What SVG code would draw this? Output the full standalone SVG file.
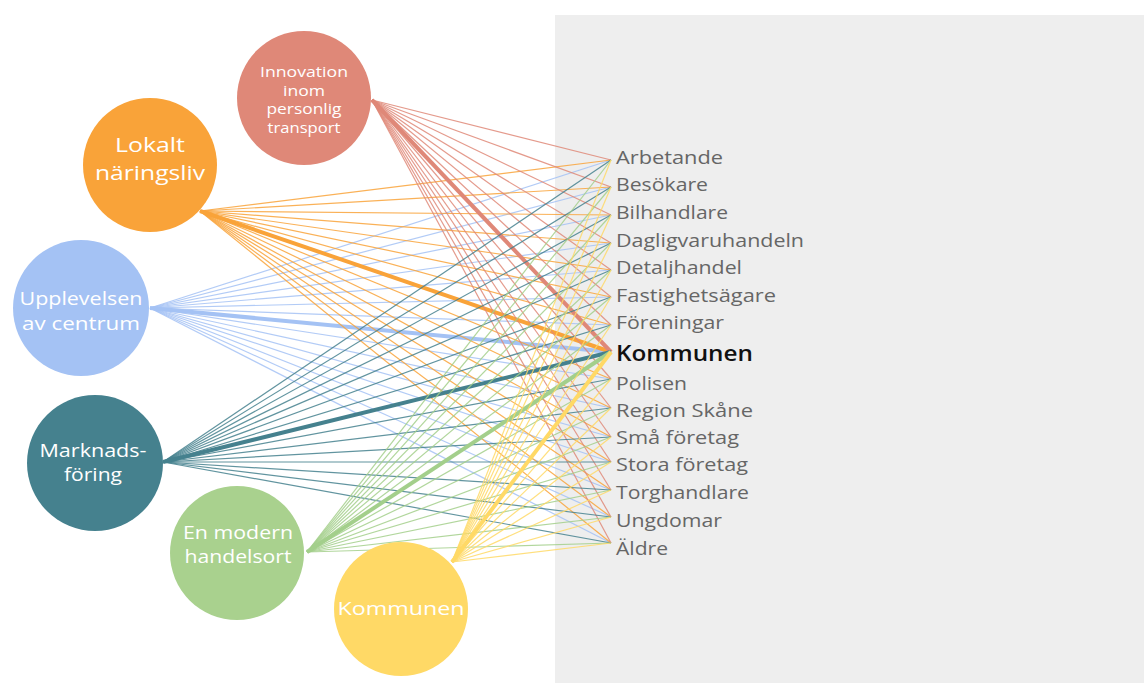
<svg xmlns="http://www.w3.org/2000/svg" width="1144" height="683" viewBox="0 0 1144 683">
<style>
.lbl{font-family:"Open Sans","Liberation Sans",sans-serif;font-size:19px;fill:#666666}
.lblb{font-family:"Open Sans","Liberation Sans",sans-serif;font-size:22px;font-weight:600;fill:#111111}
.ct{font-family:"Open Sans","Liberation Sans",sans-serif;fill:#ffffff;text-anchor:middle}
.t{stroke-width:1.2;opacity:0.85;fill:none}
.k{stroke-width:4;fill:none}
.inn line{stroke:#df8878}
.lok line{stroke:#f9a339}
.upp line{stroke:#a4c2f4}
.mar line{stroke:#45818e}
.han line{stroke:#a3cf8b}
.kom line{stroke:#ffd966}
</style>
<rect x="555" y="15" width="589" height="668" fill="#eeeeee"/>
<g id="connectors">
<g class="upp">
<line class="t" x1="150" y1="308" x2="611" y2="160"/><line class="t" x1="150" y1="308" x2="611" y2="187"/><line class="t" x1="150" y1="308" x2="611" y2="215"/><line class="t" x1="150" y1="308" x2="611" y2="243"/><line class="t" x1="150" y1="308" x2="611" y2="270"/><line class="t" x1="150" y1="308" x2="611" y2="297"/><line class="t" x1="150" y1="308" x2="611" y2="325"/><line class="t" x1="150" y1="308" x2="611" y2="379"/><line class="t" x1="150" y1="308" x2="611" y2="408"/><line class="t" x1="150" y1="308" x2="611" y2="437"/><line class="t" x1="150" y1="308" x2="611" y2="462"/><line class="t" x1="150" y1="308" x2="611" y2="490"/><line class="t" x1="150" y1="308" x2="611" y2="517"/><line class="t" x1="150" y1="308" x2="611" y2="543"/><line class="k" x1="150" y1="308" x2="611" y2="352"/>
</g>
<g class="lok">
<line class="t" x1="200" y1="211" x2="611" y2="160"/><line class="t" x1="200" y1="211" x2="611" y2="187"/><line class="t" x1="200" y1="211" x2="611" y2="215"/><line class="t" x1="200" y1="211" x2="611" y2="243"/><line class="t" x1="200" y1="211" x2="611" y2="270"/><line class="t" x1="200" y1="211" x2="611" y2="297"/><line class="t" x1="200" y1="211" x2="611" y2="325"/><line class="t" x1="200" y1="211" x2="611" y2="379"/><line class="t" x1="200" y1="211" x2="611" y2="408"/><line class="t" x1="200" y1="211" x2="611" y2="437"/><line class="t" x1="200" y1="211" x2="611" y2="462"/><line class="t" x1="200" y1="211" x2="611" y2="490"/><line class="t" x1="200" y1="211" x2="611" y2="517"/><line class="t" x1="200" y1="211" x2="611" y2="543"/><line class="k" x1="200" y1="211" x2="611" y2="352"/>
</g>
<g class="inn">
<line class="t" x1="372" y1="100" x2="611" y2="160"/><line class="t" x1="372" y1="100" x2="611" y2="187"/><line class="t" x1="372" y1="100" x2="611" y2="215"/><line class="t" x1="372" y1="100" x2="611" y2="243"/><line class="t" x1="372" y1="100" x2="611" y2="270"/><line class="t" x1="372" y1="100" x2="611" y2="297"/><line class="t" x1="372" y1="100" x2="611" y2="325"/><line class="t" x1="372" y1="100" x2="611" y2="379"/><line class="t" x1="372" y1="100" x2="611" y2="408"/><line class="t" x1="372" y1="100" x2="611" y2="437"/><line class="t" x1="372" y1="100" x2="611" y2="462"/><line class="t" x1="372" y1="100" x2="611" y2="490"/><line class="t" x1="372" y1="100" x2="611" y2="517"/><line class="t" x1="372" y1="100" x2="611" y2="543"/><line class="k" x1="372" y1="100" x2="611" y2="352"/>
</g>
<g class="mar">
<line class="t" x1="163" y1="462" x2="611" y2="160"/><line class="t" x1="163" y1="462" x2="611" y2="187"/><line class="t" x1="163" y1="462" x2="611" y2="215"/><line class="t" x1="163" y1="462" x2="611" y2="243"/><line class="t" x1="163" y1="462" x2="611" y2="270"/><line class="t" x1="163" y1="462" x2="611" y2="297"/><line class="t" x1="163" y1="462" x2="611" y2="325"/><line class="t" x1="163" y1="462" x2="611" y2="379"/><line class="t" x1="163" y1="462" x2="611" y2="408"/><line class="t" x1="163" y1="462" x2="611" y2="437"/><line class="t" x1="163" y1="462" x2="611" y2="462"/><line class="t" x1="163" y1="462" x2="611" y2="490"/><line class="t" x1="163" y1="462" x2="611" y2="517"/><line class="t" x1="163" y1="462" x2="611" y2="543"/><line class="k" x1="163" y1="462" x2="611" y2="352"/>
</g>
<g class="han">
<line class="t" x1="307" y1="552" x2="611" y2="160"/><line class="t" x1="307" y1="552" x2="611" y2="187"/><line class="t" x1="307" y1="552" x2="611" y2="215"/><line class="t" x1="307" y1="552" x2="611" y2="243"/><line class="t" x1="307" y1="552" x2="611" y2="270"/><line class="t" x1="307" y1="552" x2="611" y2="297"/><line class="t" x1="307" y1="552" x2="611" y2="325"/><line class="t" x1="307" y1="552" x2="611" y2="379"/><line class="t" x1="307" y1="552" x2="611" y2="408"/><line class="t" x1="307" y1="552" x2="611" y2="437"/><line class="t" x1="307" y1="552" x2="611" y2="462"/><line class="t" x1="307" y1="552" x2="611" y2="490"/><line class="t" x1="307" y1="552" x2="611" y2="517"/><line class="t" x1="307" y1="552" x2="611" y2="543"/><line class="k" x1="307" y1="552" x2="611" y2="352"/>
</g>
<g class="kom">
<line class="t" x1="452" y1="562" x2="611" y2="160"/><line class="t" x1="452" y1="562" x2="611" y2="187"/><line class="t" x1="452" y1="562" x2="611" y2="215"/><line class="t" x1="452" y1="562" x2="611" y2="243"/><line class="t" x1="452" y1="562" x2="611" y2="270"/><line class="t" x1="452" y1="562" x2="611" y2="297"/><line class="t" x1="452" y1="562" x2="611" y2="325"/><line class="t" x1="452" y1="562" x2="611" y2="379"/><line class="t" x1="452" y1="562" x2="611" y2="408"/><line class="t" x1="452" y1="562" x2="611" y2="437"/><line class="t" x1="452" y1="562" x2="611" y2="462"/><line class="t" x1="452" y1="562" x2="611" y2="490"/><line class="t" x1="452" y1="562" x2="611" y2="517"/><line class="t" x1="452" y1="562" x2="611" y2="543"/><line class="k" x1="452" y1="562" x2="611" y2="352"/>
</g>
</g>
<g id="node-innovation">
<circle cx="304" cy="98" r="67" fill="#df8878"/>
<text class="ct" font-size="15" x="304" y="77" textLength="88" lengthAdjust="spacingAndGlyphs">Innovation</text>
<text class="ct" font-size="15" x="304" y="96" textLength="42" lengthAdjust="spacingAndGlyphs">inom</text>
<text class="ct" font-size="15" x="304" y="114" textLength="75" lengthAdjust="spacingAndGlyphs">personlig</text>
<text class="ct" font-size="15" x="304" y="133" textLength="73" lengthAdjust="spacingAndGlyphs">transport</text>
</g>
<g id="node-lokalt">
<circle cx="150" cy="165" r="67" fill="#f9a339"/>
<text class="ct" font-size="20.5" x="150" y="152" textLength="70" lengthAdjust="spacingAndGlyphs">Lokalt</text>
<text class="ct" font-size="20.5" x="150" y="180" textLength="110" lengthAdjust="spacingAndGlyphs">näringsliv</text>
</g>
<g id="node-upplevelsen">
<circle cx="81" cy="308" r="68" fill="#a4c2f4"/>
<text class="ct" font-size="18" x="81" y="305" textLength="123" lengthAdjust="spacingAndGlyphs">Upplevelsen</text>
<text class="ct" font-size="18" x="81" y="330" textLength="118" lengthAdjust="spacingAndGlyphs">av centrum</text>
</g>
<g id="node-marknadsforing">
<circle cx="95" cy="463" r="68" fill="#45818e"/>
<text class="ct" font-size="17.5" x="93" y="457" textLength="107" lengthAdjust="spacingAndGlyphs">Marknads-</text>
<text class="ct" font-size="17.5" x="93" y="481" textLength="58" lengthAdjust="spacingAndGlyphs">föring</text>
</g>
<g id="node-handelsort">
<circle cx="237" cy="553" r="67" fill="#a9d18e"/>
<text class="ct" font-size="17.5" x="238" y="539" textLength="110" lengthAdjust="spacingAndGlyphs">En modern</text>
<text class="ct" font-size="17.5" x="238" y="563" textLength="107" lengthAdjust="spacingAndGlyphs">handelsort</text>
</g>
<g id="node-kommunen-src">
<circle cx="401" cy="609" r="67" fill="#ffd966"/>
<text class="ct" font-size="19" x="401" y="615" textLength="127" lengthAdjust="spacingAndGlyphs">Kommunen</text>
</g>
<g id="targets">
<text class="lbl" x="616" y="164" textLength="107" lengthAdjust="spacingAndGlyphs">Arbetande</text>
<text class="lbl" x="616" y="191" textLength="92" lengthAdjust="spacingAndGlyphs">Besökare</text>
<text class="lbl" x="616" y="219" textLength="112" lengthAdjust="spacingAndGlyphs">Bilhandlare</text>
<text class="lbl" x="616" y="247" textLength="188" lengthAdjust="spacingAndGlyphs">Dagligvaruhandeln</text>
<text class="lbl" x="616" y="274" textLength="126" lengthAdjust="spacingAndGlyphs">Detaljhandel</text>
<text class="lbl" x="616" y="302" textLength="160" lengthAdjust="spacingAndGlyphs">Fastighetsägare</text>
<text class="lbl" x="616" y="329" textLength="108" lengthAdjust="spacingAndGlyphs">Föreningar</text>
<text class="lblb" x="616" y="361" textLength="137" lengthAdjust="spacingAndGlyphs">Kommunen</text>
<text class="lbl" x="616" y="390" textLength="71" lengthAdjust="spacingAndGlyphs">Polisen</text>
<text class="lbl" x="616" y="417" textLength="137" lengthAdjust="spacingAndGlyphs">Region Skåne</text>
<text class="lbl" x="616" y="444" textLength="123" lengthAdjust="spacingAndGlyphs">Små företag</text>
<text class="lbl" x="616" y="471" textLength="132" lengthAdjust="spacingAndGlyphs">Stora företag</text>
<text class="lbl" x="616" y="499" textLength="133" lengthAdjust="spacingAndGlyphs">Torghandlare</text>
<text class="lbl" x="616" y="527" textLength="106" lengthAdjust="spacingAndGlyphs">Ungdomar</text>
<text class="lbl" x="616" y="555" textLength="52" lengthAdjust="spacingAndGlyphs">Äldre</text>
</g>
</svg>
